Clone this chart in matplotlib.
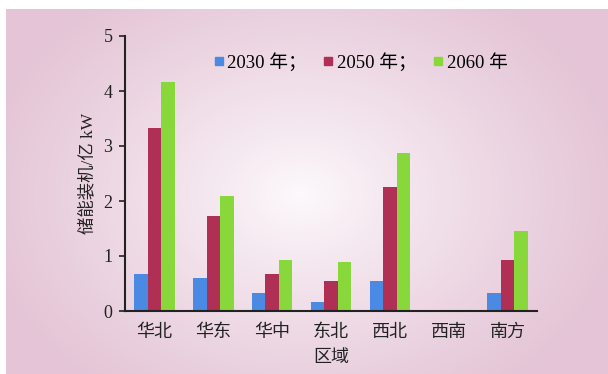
import numpy as np
import matplotlib
matplotlib.use('Agg')
from matplotlib import pyplot as plt
from matplotlib.lines import Line2D

# Storage capacity by region, 100 million kW
regions = ['华北', '华东', '华中', '东北', '西北', '西南', '南方']
years = ['2030 年；', '2050 年；', '2060 年']
cap_2030 = [0.67, 0.60, 0.33, 0.16, 0.54, 0.0, 0.33]
cap_2050 = [3.33, 1.73, 0.67, 0.55, 2.25, 0.0, 0.92]
cap_2060 = [4.17, 2.10, 0.92, 0.89, 2.88, 0.0, 1.46]
colors = ['#4a8ae2', '#b02f55', '#88d83b']

plt.rcParams['font.family'] = ['Liberation Serif', 'Noto Sans CJK SC']

W, H = 608, 374
fig = plt.figure(figsize=(W / 100, H / 100), dpi=100)

# Pink panel with a soft radial glow in the middle
bg = fig.add_axes([6 / W, 0, 602 / W, 365 / H])
bg.set_axis_off()
yy, xx = np.mgrid[0:365, 0:602]
r = np.sqrt(((xx - 294) / 330) ** 2 + ((yy - 185) / 250) ** 2)
t = np.clip(r, 0, 1) ** 0.85
edge = np.array([228, 196, 214]) / 255
center = np.array([253, 250, 252]) / 255
img = center[None, None, :] * (1 - t[..., None]) + edge[None, None, :] * t[..., None]
bg.imshow(img, aspect='auto', interpolation='bilinear', extent=(0, 1, 0, 1))
bg.set_xlim(0, 1)
bg.set_ylim(0, 1)

ax = fig.add_axes([125 / W, (H - 311) / H, 412 / W, 275 / H])
ax.patch.set_alpha(0)

x = np.arange(len(regions))
width = 0.23
for i, vals in enumerate([cap_2030, cap_2050, cap_2060]):
    ax.bar(x + (i - 1) * width, vals, width, color=colors[i], label=years[i])

ax.set_xlim(-0.5, len(regions) - 0.5)
ax.set_ylim(0, 5)
ax.set_yticks(range(6))
ax.set_xticks(x)
ax.set_xticklabels(regions, fontsize=13, color='#222222')
ax.tick_params(axis='x', length=0, pad=9)
ax.tick_params(axis='y', length=4, width=1.2, labelsize=13, pad=5, colors='#222222')
for side in ['top', 'right']:
    ax.spines[side].set_visible(False)
for side in ['left', 'bottom']:
    ax.spines[side].set_linewidth(1.5)
    ax.spines[side].set_color('#222222')

ax.set_ylabel('储能装机/亿 kW', fontsize=12.5, color='#222222', labelpad=5)
ax.set_xlabel('区域', fontsize=13, color='#222222', labelpad=6)

handles = [Line2D([], [], marker='s', linestyle='none', markersize=6,
                  markerfacecolor=c, markeredgecolor=c) for c in colors]
ax.legend(handles, years, ncol=3, frameon=False, loc='upper center',
          bbox_to_anchor=(0.57, 1.0), fontsize=13.5, handletextpad=0.1,
          columnspacing=0.8, handlelength=0.7)

fig.savefig('out.png', dpi=100)
